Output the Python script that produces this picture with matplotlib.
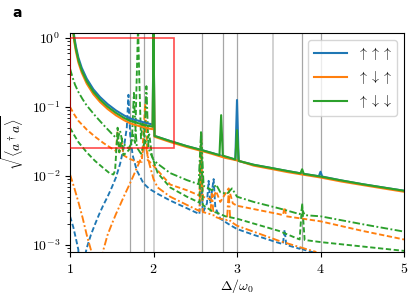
import matplotlib
matplotlib.use("Agg")
import matplotlib.pyplot as plt
from matplotlib.patches import Rectangle

# ---------------- data ----------------
labels = [r'$\uparrow\uparrow\uparrow$', r'$\uparrow\downarrow\uparrow$', r'$\uparrow\downarrow\downarrow$']
x_ticks = [1, 2, 3, 4, 5]
x_tick_labels = [r'$1$', r'$2$', r'$3$', r'$4$', r'$5$']
y_ticks = [1e-3, 1e-2, 1e-1, 1e0]
y_tick_labels = [r'$10^{-3}$', r'$10^{-2}$', r'$10^{-1}$', r'$10^{0}$']

resonances_dark = [1.715, 1.89, 2.58, 2.835, 3.0, 3.78, 4.0]
resonances_light = [2.0, 3.43]
zoom_box_x = [1.0, 2.25]
zoom_box_y = [0.025, 1.0]

# solid curves
bs_x = [1.03, 1.04, 1.05, 1.07, 1.1, 1.14, 1.2, 1.28, 1.36, 1.45, 1.55, 1.65, 1.72, 1.8, 1.88, 1.95, 1.99, 2.0, 2.012,
        2.2, 2.4, 2.56, 2.7, 2.85, 2.98, 3.0, 3.02, 3.2, 3.43, 3.6, 3.8, 3.98, 4.0, 4.02, 4.25, 4.5, 4.75, 5.0]
bs_y = [1.8, 1.35, 1.06, 0.76, 0.52, 0.37, 0.257, 0.18, 0.139, 0.11, 0.089, 0.075, 0.068, 0.064, 0.06, 0.057, 0.056, 1.5, 0.038,
        0.032, 0.027, 0.024, 0.0215, 0.019, 0.0173, 0.126, 0.0165, 0.0145, 0.0129, 0.0118, 0.0107, 0.0099, 0.0115, 0.0098, 0.0086, 0.0076, 0.0068, 0.0061]

os_x = [1.03, 1.04, 1.05, 1.07, 1.1, 1.14, 1.2, 1.28, 1.36, 1.45, 1.55, 1.65, 1.72, 1.8, 1.88, 1.95, 1.99, 2.0, 2.012,
        2.2, 2.4, 2.56, 2.7, 2.85, 3.0, 3.2, 3.43, 3.6, 3.8, 4.0, 4.25, 4.5, 4.75, 5.0]
os_y = [1.53, 1.15, 0.9, 0.646, 0.442, 0.315, 0.218, 0.153, 0.118, 0.0935, 0.0757, 0.064, 0.058, 0.054, 0.051, 0.0485, 0.0476, 1.2, 0.037,
        0.031, 0.0262, 0.0233, 0.0209, 0.0184, 0.0168, 0.0141, 0.0125, 0.0114, 0.0104, 0.0095, 0.0083, 0.0074, 0.0066, 0.0059]

gs_x = [1.03, 1.04, 1.05, 1.07, 1.1, 1.14, 1.2, 1.28, 1.36, 1.45, 1.55, 1.65, 1.72, 1.8, 1.88, 1.95, 1.99, 2.0, 2.012,
        2.2, 2.4, 2.56, 2.7, 2.79, 2.81, 2.83, 2.98, 3.0, 3.02, 3.2, 3.43, 3.6, 3.76, 3.78, 3.8, 4.0, 4.25, 4.5, 4.75, 5.0]
gs_y = [1.65, 1.24, 0.975, 0.7, 0.48, 0.34, 0.236, 0.166, 0.128, 0.101, 0.082, 0.069, 0.063, 0.059, 0.055, 0.053, 0.052, 1.5, 0.038,
        0.032, 0.027, 0.024, 0.0215, 0.02, 0.076, 0.0197, 0.0173, 0.046, 0.0165, 0.0145, 0.0129, 0.0118, 0.0109, 0.0125, 0.0107, 0.0098, 0.0086, 0.0076, 0.0068, 0.0061]

# green dash-dot
gdd_x = [1.0, 1.03, 1.06, 1.1, 1.15, 1.2, 1.3, 1.4, 1.5, 1.57, 1.6, 1.63, 1.7, 1.74, 1.765, 1.78, 1.8, 1.85, 1.89, 1.915, 1.94,
         2.0, 2.05, 2.2, 2.4, 2.54, 2.57, 2.6, 2.7, 2.75, 2.8, 2.88, 2.94, 3.0, 3.2, 3.5, 3.75, 3.78, 3.81, 4.0, 4.5, 5.0]
gdd_y = [0.36, 0.27, 0.21, 0.165, 0.13, 0.105, 0.075, 0.055, 0.041, 0.034, 0.045, 0.03, 0.025, 0.03, 0.16, 0.06, 0.026, 0.021, 0.03, 0.2, 0.025,
         0.017, 0.015, 0.011, 0.0087, 0.0076, 0.045, 0.0072, 0.0062, 0.0075, 0.0058, 0.0055, 0.0066, 0.005, 0.0042, 0.0034, 0.0028, 0.0033, 0.0027, 0.0026, 0.002, 0.00156]

# green dashed
gd_x = [1.0, 1.05, 1.1, 1.2, 1.3, 1.4, 1.48, 1.52, 1.54, 1.56, 1.57, 1.59, 1.62, 1.64, 1.68, 1.72, 1.75, 1.78, 1.80, 1.815, 1.83, 1.85,
        1.87, 1.9, 1.95, 1.98, 2.02, 2.05, 2.2, 2.4, 2.55, 2.57, 2.59, 2.7, 2.8, 2.86, 3.0, 3.5, 3.75, 3.78, 3.81, 4.0, 4.5, 5.0]
gd_y = [0.05, 0.039, 0.031, 0.022, 0.0165, 0.013, 0.0108, 0.0105, 0.012, 0.03, 0.05, 0.022, 0.035, 0.02, 0.022, 0.025, 0.04, 0.03, 0.3, 1.5, 0.25, 0.035,
        0.06, 0.03, 0.04, 0.02, 0.014, 0.011, 0.0068, 0.005, 0.0041, 0.042, 0.0038, 0.0031, 0.0028, 0.0026, 0.0024, 0.0016, 0.0012, 0.004, 0.00118, 0.0011, 0.00095, 0.00082]

# orange dashed
od_x = [1.0, 1.05, 1.1, 1.2, 1.3, 1.4, 1.5, 1.55, 1.57, 1.59, 1.62, 1.64, 1.7, 1.8, 1.86, 1.9, 1.93, 1.98,
        2.05, 2.2, 2.4, 2.55, 2.57, 2.59, 2.7, 2.75, 2.8, 2.9, 2.95, 3.0, 3.5, 3.55, 3.57, 3.59, 4.0, 4.5, 5.0]
od_y = [0.1, 0.078, 0.063, 0.047, 0.037, 0.03, 0.025, 0.023, 0.044, 0.022, 0.03, 0.02, 0.018, 0.016, 0.016, 0.11, 0.017, 0.015,
        0.012, 0.0075, 0.0062, 0.0052, 0.042, 0.005, 0.0045, 0.006, 0.0042, 0.0066, 0.004, 0.0037, 0.0028, 0.0027, 0.0035, 0.0026, 0.0022, 0.0016, 0.0012]

# blue dashed
bd_x = [1.0, 1.04, 1.08, 1.1, 1.14, 1.18, 1.2, 1.25, 1.3, 1.35, 1.4, 1.45, 1.5, 1.55, 1.6, 1.65, 1.68, 1.7, 1.72, 1.75, 1.8, 1.88, 1.95,
        2.05, 2.2, 2.4, 2.55, 2.57, 2.59, 2.64, 2.66, 2.68, 2.72, 2.74, 2.8, 2.9, 3.0, 3.2, 3.5, 3.55, 3.57, 3.59, 3.75, 3.77, 3.79, 3.85, 3.95]
bd_y = [0.0026, 0.0018, 0.0011, 0.00085, 1e-5, 0.0007, 0.0009, 0.0014, 0.002, 0.0028, 0.0038, 0.005, 0.0068, 0.0095, 0.015, 0.028, 0.05, 0.15, 0.04, 0.02, 0.012, 0.0078, 0.0065,
        0.0055, 0.0044, 0.0034, 0.0028, 0.012, 0.0029, 0.004, 0.0085, 0.004, 0.009, 0.0035, 0.0024, 0.002, 0.0017, 0.0014, 0.00107, 0.00103, 0.00166, 0.001, 0.00088, 0.00095, 0.00086, 0.00082, 0.00076]

# orange dash-dot
odd_x = [1.0, 1.05, 1.1, 1.15, 1.2, 1.25, 1.27, 1.33, 1.38, 1.4, 1.45, 1.5, 1.55, 1.6, 1.65, 1.7, 1.75, 1.8, 1.85, 1.9, 1.95, 2.0,
         2.05, 2.2, 2.4, 2.55, 2.57, 2.59, 2.68, 2.7, 2.72, 2.8, 2.88, 2.9, 2.92, 3.0, 3.5, 3.75, 3.95]
odd_y = [0.0105, 0.0068, 0.0042, 0.0025, 0.0014, 0.00085, 0.0006, 1e-5, 0.0006, 0.00085, 0.0014, 0.002, 0.0028, 0.0038, 0.0052, 0.007, 0.0095, 0.013, 0.018, 0.03, 0.015, 0.009,
         0.0068, 0.005, 0.0038, 0.0031, 0.02, 0.003, 0.0028, 0.0055, 0.0026, 0.0024, 0.0023, 0.0058, 0.0022, 0.0019, 0.00115, 0.00093, 0.00079]

# ---------------- drawing ----------------
plt.rcParams['mathtext.fontset'] = 'cm'
plt.rcParams['font.size'] = 10

fig = plt.figure(figsize=(4.15, 3.01), dpi=100)
ax = fig.add_axes([0.1687, 0.1628, 0.8048, 0.7276])

C = ['#1f77b4', '#ff7f0e', '#2ca02c']
dash = (2.8, 1.4)
dashdot = (4.0, 1.3, 1.0, 1.3)
lw_s, lw_d = 1.5, 1.35

for xv in resonances_dark:
    ax.axvline(xv, color='gray', lw=0.9, alpha=0.7, zorder=0)
for xv in resonances_light:
    ax.axvline(xv, color='gray', lw=1.4, alpha=0.35, zorder=0)

ax.plot(bd_x, bd_y, color=C[0], lw=lw_d, dashes=dash)
ax.plot(odd_x, odd_y, color=C[1], lw=lw_d, dashes=dashdot)
ax.plot(od_x, od_y, color=C[1], lw=lw_d, dashes=dash)
ax.plot(gd_x, gd_y, color=C[2], lw=lw_d, dashes=dash)
ax.plot(gdd_x, gdd_y, color=C[2], lw=lw_d, dashes=dashdot)

ax.plot(bs_x, bs_y, color=C[0], lw=lw_s, label=labels[0])
ax.plot(os_x, os_y, color=C[1], lw=lw_s, label=labels[1])
ax.plot(gs_x, gs_y, color=C[2], lw=lw_s, label=labels[2])

ax.add_patch(Rectangle((zoom_box_x[0], zoom_box_y[0]), zoom_box_x[1] - zoom_box_x[0],
                       zoom_box_y[1] - zoom_box_y[0], fill=False, ec='red', lw=1.2, alpha=0.7, zorder=5))

ax.set_yscale('log')
ax.set_xlim(1, 5)
ax.set_ylim(7.9e-4, 1.18)
ax.set_xticks(x_ticks)
ax.set_xticklabels(x_tick_labels)
ax.set_yticks(y_ticks)
ax.set_yticklabels(y_tick_labels)
ax.set_xlabel(r'$\Delta/\omega_0$', labelpad=1)
ax.set_ylabel(r'$\sqrt{\langle a^\dagger a\rangle}$')

ax.legend(loc='upper right', handlelength=2.4, fontsize=10, handletextpad=0.7)
fig.text(0.03, 0.945, 'a', fontweight='bold', fontsize=10, family='DejaVu Sans')

fig.savefig('out.png', dpi=100)
